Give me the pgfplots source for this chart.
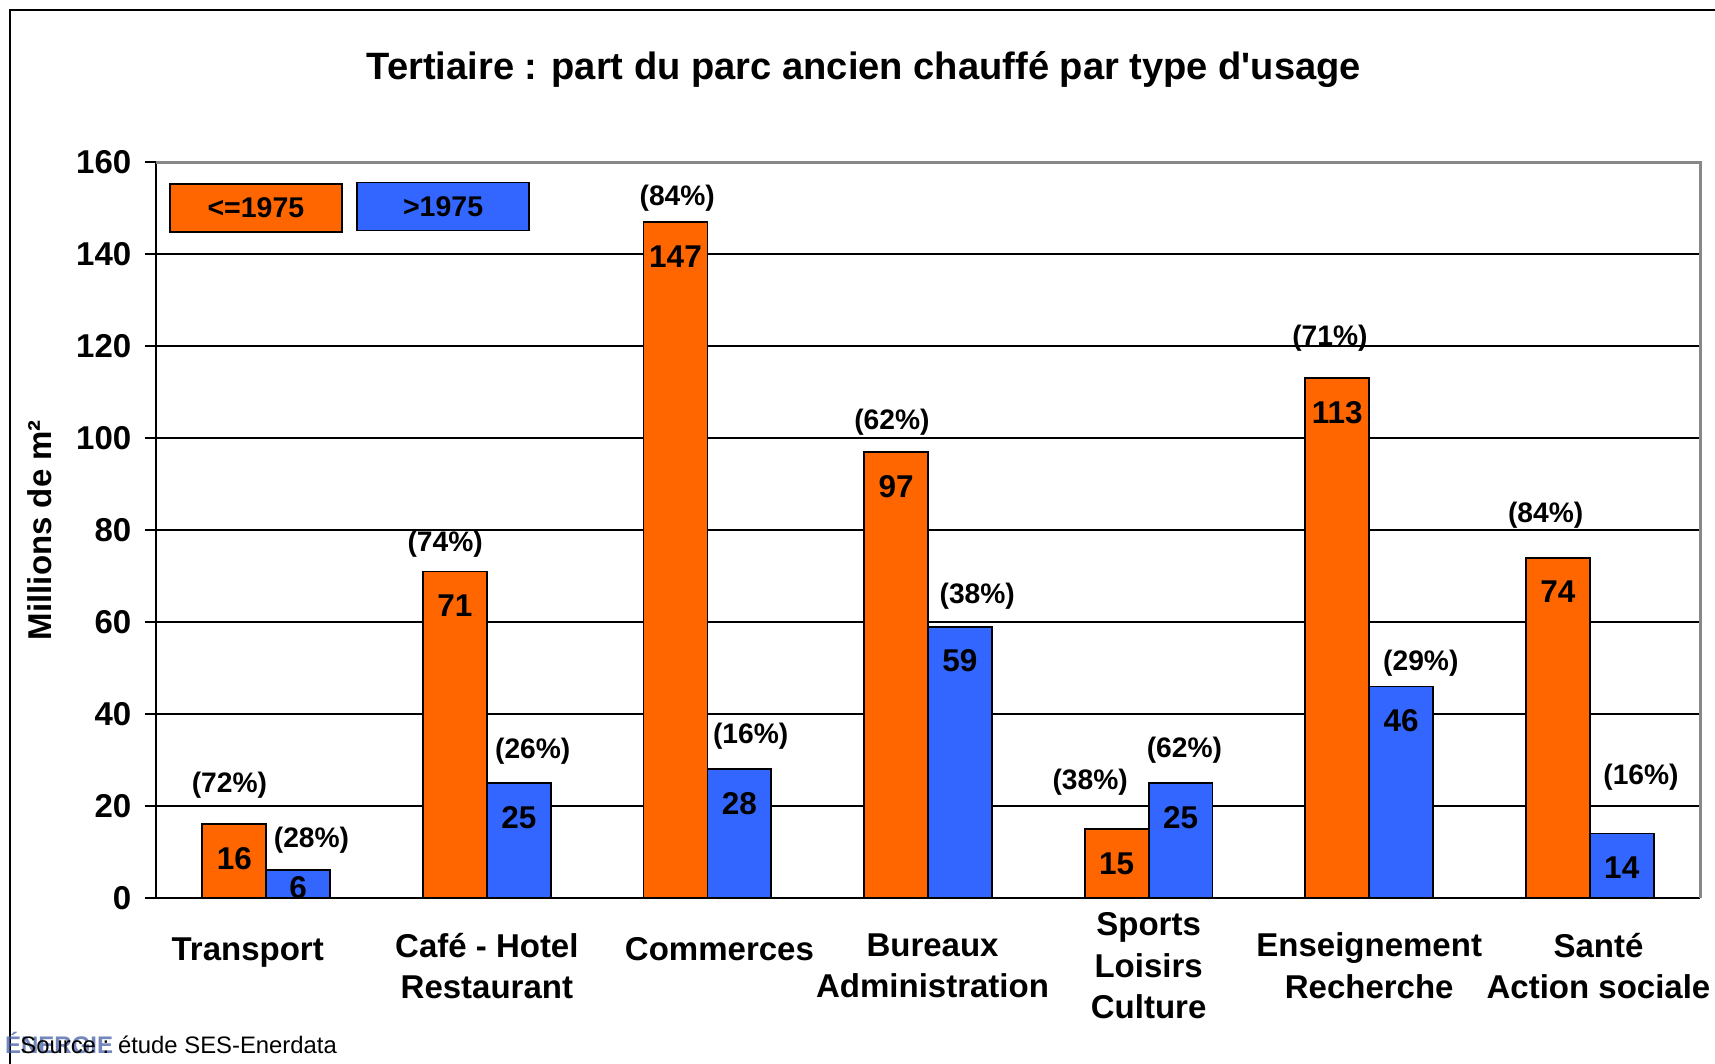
\documentclass[border=0pt]{standalone}
\usepackage{pgfplots}
\pgfplotsset{compat=1.18}
\usepackage{fontspec}
\setmainfont{Liberation Sans}
\definecolor{orangebar}{HTML}{FF6600}
\definecolor{bluebar}{HTML}{3366FF}
\definecolor{frame}{HTML}{888888}

\begin{document}
\begin{tikzpicture}
  \useasboundingbox (-52pt,-55.33pt) rectangle (519.67pt,299.33pt);
  % outer slide frame (only top and left visible)
  \draw[line width=0.5pt] (-48.67pt,-70pt) -- (-48.67pt,296pt) -- (530pt,296pt);

  \begin{axis}[
    at={(0pt,0pt)}, anchor=south west,
    scale only axis,
    width=514.7pt, height=245.3pt,
    ybar=0pt, bar width=21.3pt,
    xmin=-0.5, xmax=6.5,
    ymin=0, ymax=160,
    ytick={0,20,...,160},
    xtick={0,...,6},
    xticklabels={\raisebox{11pt}{Transport}\hspace*{12.4pt}, Café - Hotel\\Restaurant, \hspace*{8pt}\raisebox{11pt}{Commerces}, \hspace*{3pt}Bureaux\\\hspace*{3pt}Administration, Sports\\Loisirs\\Culture, Enseignement\\Recherche, \hspace*{5.8pt}Santé\\\hspace*{5.8pt}Action sociale},
    axis x line*=bottom, axis y line*=left,
    axis line style={black, line width=0.6pt, -},
    ymajorgrids,
    grid style={black, line width=0.4pt},
    tick align=outside,
    major tick length=3.7pt,
    x tick style={draw=none},
    y tick style={black, line width=0.6pt},
    /pgf/number format/assume math mode=true,
    yticklabel style={font=\bfseries\fontsize{11}{13}\selectfont, xshift=-1pt},
    xticklabel style={font=\bfseries\fontsize{11}{13.9}\selectfont, align=center, anchor=center, yshift=-18.95pt},
    ylabel={Millions de m²},
    ylabel style={font=\bfseries\fontsize{11}{13}\selectfont, at={(axis description cs:-0.0756,0.5)}, anchor=center},
    title={Tertiaire : part du parc ancien chauffé par type d\textquotesingle usage},
    title style={font=\bfseries\fontsize{12.7}{15}\selectfont, at={(axis description cs:0.4585,1)}, anchor=center, yshift=24.9pt},
    clip=false,
    nodes near coords,
    visualization depends on={rawy \as \rawy},
    every node near coord/.append style={anchor=center, font=\bfseries\fontsize{10.5}{12}\selectfont, text=black,
      yshift={ifthenelse(\rawy<10,-5.6,-11.5)}},
  ]
    \addplot[fill=orangebar, draw=black, line width=0.6pt]
      coordinates {(0,16) (1,71) (2,147) (3,97) (4,15) (5,113) (6,74)};
    \addplot[fill=bluebar, draw=black, line width=0.6pt]
      coordinates {(0,6) (1,25) (2,28) (3,59) (4,25) (5,46) (6,14)};

    % share labels
    \begin{scope}[every node/.style={font=\bfseries\fontsize{9.4}{11}\selectfont, anchor=center}]
      \node at (axis cs:-0.167,24.5) {(72\%)};
      \node at (axis cs:0.205,12.6) {(28\%)};
      \node at (axis cs:0.811,77.0) {(74\%)};
      \node at (axis cs:1.208,31.9) {(26\%)};
      \node at (axis cs:1.863,152.2) {(84\%)};
      \node at (axis cs:2.196,35.2) {(16\%)};
      \node at (axis cs:2.836,103.4) {(62\%)};
      \node at (axis cs:3.223,65.6) {(38\%)};
      \node at (axis cs:3.735,25.2) {(38\%)};
      \node at (axis cs:4.162,32.1) {(62\%)};
      \node at (axis cs:4.822,121.7) {(71\%)};
      \node at (axis cs:5.234,51.1) {(29\%)};
      \node at (axis cs:5.800,83.2) {(84\%)};
      \node at (axis cs:6.232,26.2) {(16\%)};
    \end{scope}
  \end{axis}

  % plot area border (top and right, grey)
  \draw[frame, line width=1pt] (0pt,245.3pt) -- (514.7pt,245.3pt) -- (514.7pt,0pt);

  % legend boxes
  \node[fill=orangebar, draw=black, line width=0.6pt, minimum width=57.3pt, minimum height=16pt,
        inner sep=0pt, font=\bfseries\fontsize{9.5}{11}\selectfont] at (33.3pt,230pt) {<=1975};
  \node[fill=bluebar, draw=black, line width=0.6pt, minimum width=57.3pt, minimum height=16pt,
        inner sep=0pt, font=\bfseries\fontsize{9.5}{11}\selectfont] at (95.7pt,230.5pt) {>1975};

  % source
  \node[anchor=base west, inner sep=0pt, text={rgb,255:red,70;green,95;blue,165}, opacity=0.75,
        font=\bfseries\fontsize{8}{9}\selectfont] at (-50.5pt,-51.7pt) {ÉNERGIE};
  \node[anchor=base west, inner sep=0pt, font=\fontsize{7.95}{10}\selectfont] at (-45.4pt,-51.7pt) {Source : étude SES-Enerdata};
\end{tikzpicture}
\end{document}
